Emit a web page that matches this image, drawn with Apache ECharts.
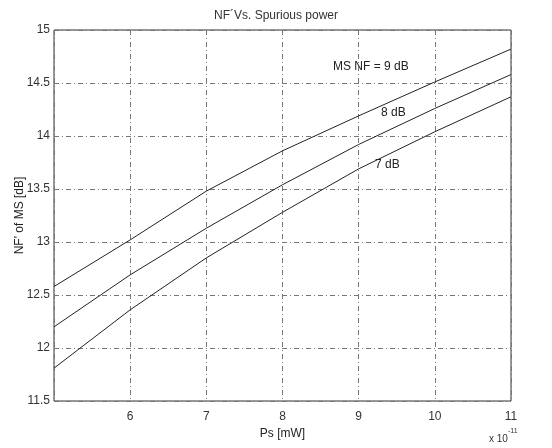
<!DOCTYPE html>
<html><head><meta charset="utf-8">
<script src="https://cdn.jsdelivr.net/npm/echarts@6/dist/echarts.min.js"></script>
<style>html,body{margin:0;padding:0;background:#fff}#c{width:552px;height:448px}</style>
</head><body><div id="c"></div>
<script>
const ps = [5, 6, 7, 8, 9, 10, 11];
const nf9 = [12.58, 13.02, 13.48, 13.86, 14.19, 14.51, 14.82];
const nf8 = [12.20, 12.69, 13.13, 13.54, 13.92, 14.26, 14.58];
const nf7 = [11.81, 12.36, 12.85, 13.28, 13.69, 14.04, 14.37];
const curveLabels = ['MS NF = 9 dB', '8 dB', '7 dB'];

const chart = echarts.init(document.getElementById('c'));
const font = 'Liberation Sans, Arial, sans-serif';
const grid = {type: [5, 3, 1, 3], color: '#777', width: 1};
function mk(name, vals){
  return {name, type:'line', data: ps.map((x,i)=>[x, vals[i]]), symbol:'none',
    lineStyle:{color:'#222', width:1}, silent:true};
}
chart.setOption({
  animation:false,
  title:{text:'NF´Vs. Spurious power', left:'center', top:5,
    textStyle:{fontFamily:font, fontSize:12, fontWeight:'normal', color:'#333'}},
  grid:{left:54, right:41, top:30, bottom:47, show:true, borderColor:'#333', borderWidth:1,
    containLabel:false, outerBoundsMode:'none'},
  xAxis:{type:'value', min:5, max:11, interval:1, name:'Ps [mW]', nameLocation:'middle', nameGap:22,
    nameTextStyle:{fontFamily:font, fontSize:12, color:'#222'},
    axisLine:{show:false}, axisTick:{show:false},
    axisLabel:{fontFamily:font, fontSize:12, color:'#333', margin:10,
      formatter:v=> v===5 ? '' : String(v)},
    splitLine:{show:true, lineStyle:grid}},
  yAxis:{type:'value', min:11.5, max:15, interval:0.5, name:"NF' of MS [dB]", nameLocation:'middle', nameGap:28,
    nameMoveOverlap:false,
    nameTextStyle:{fontFamily:font, fontSize:12, color:'#222'},
    axisLine:{show:false}, axisTick:{show:false},
    axisLabel:{fontFamily:font, fontSize:12, color:'#333', margin:4},
    splitLine:{show:true, lineStyle:grid}},
  graphic:[
    {type:'text', left:333, top:61, style:{text:curveLabels[0], font:'12px '+font, fill:'#222'}},
    {type:'text', left:381, top:107, style:{text:curveLabels[1], font:'12px '+font, fill:'#222'}},
    {type:'text', left:375, top:159, style:{text:curveLabels[2], font:'12px '+font, fill:'#222'}},
    {type:'text', left:489, top:434, style:{text:'x 10', font:'10px '+font, fill:'#333'}},
    {type:'text', left:508, top:428, style:{text:'-11', font:'7px '+font, fill:'#333'}}
  ],
  series:[mk('9 dB', nf9), mk('8 dB', nf8), mk('7 dB', nf7)]
});
</script></body></html>
